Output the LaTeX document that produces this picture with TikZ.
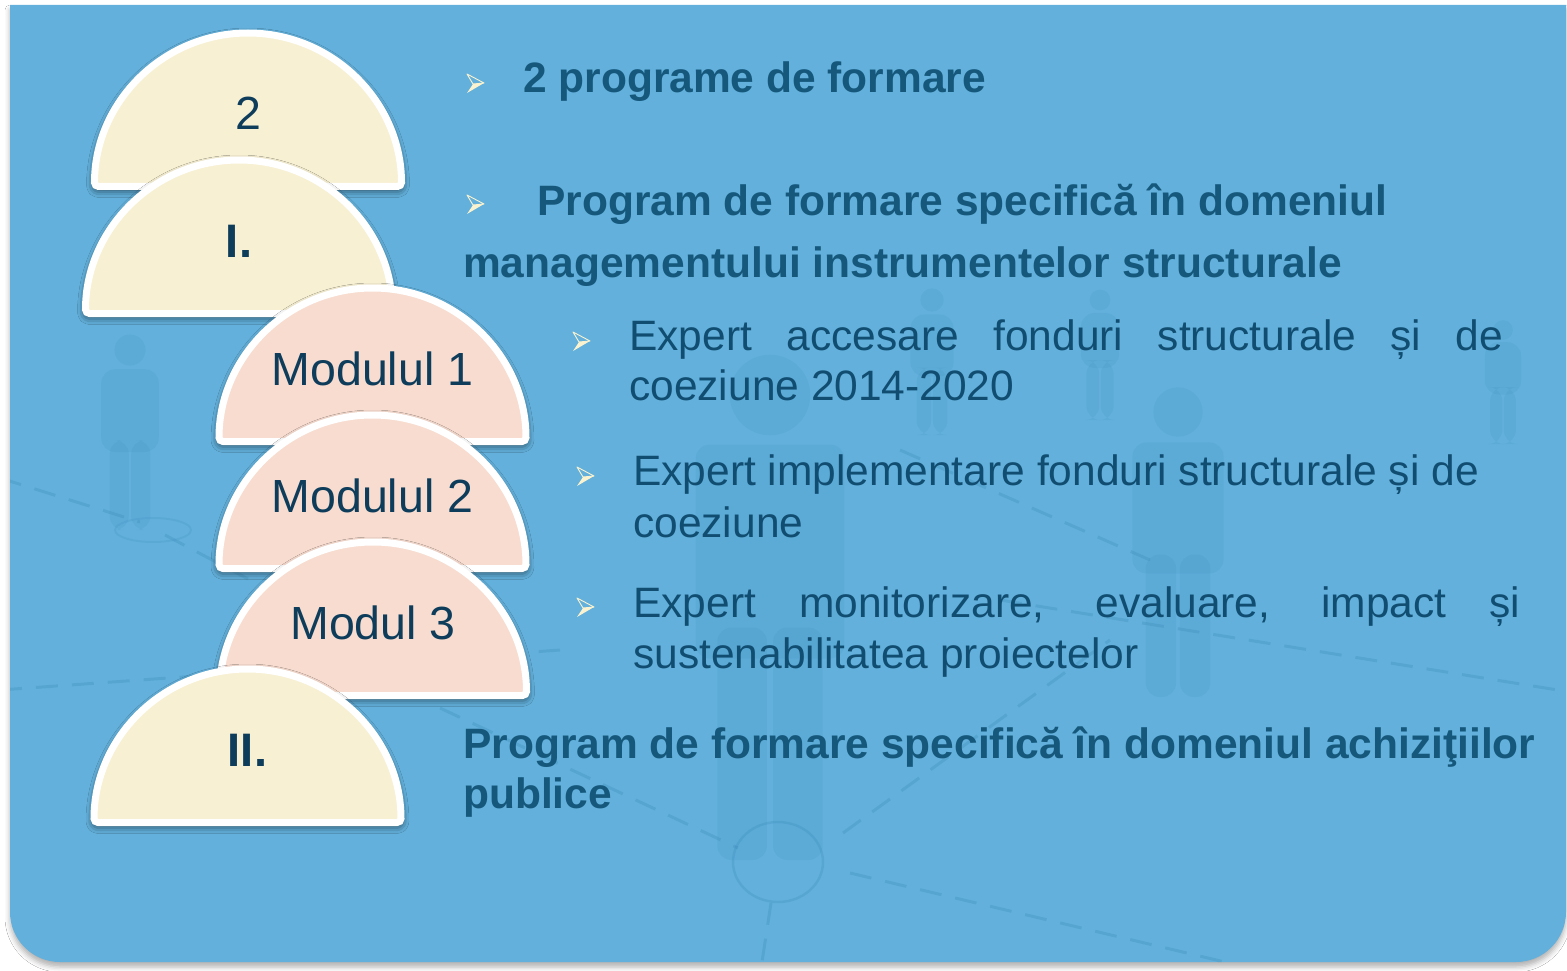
\documentclass[tikz,border=0pt]{standalone}
\usepackage{fontspec}
\setmainfont{Liberation Sans}
\usetikzlibrary{shadows.blur}
\definecolor{bgblue}{HTML}{62B0DB}
\definecolor{headc}{HTML}{15587C}
\definecolor{bodyc}{HTML}{114D71}
\definecolor{labc}{HTML}{0E3C5B}
\definecolor{creamc}{HTML}{F7F0D3}
\definecolor{pinkc}{HTML}{F7DCCF}
\definecolor{figc}{HTML}{2F7FB2}
\definecolor{bulc}{HTML}{FBF3CF}
\tikzset{
  half/.style={draw=white, line width=7pt, rounded corners=4pt,
    blur shadow={shadow xshift=0pt, shadow yshift=-3pt, shadow blur radius=8pt, shadow opacity=75}},
  lab/.style={anchor=base, inner sep=0pt, text=labc, font=\fontsize{46.5}{50}\selectfont},
  labb/.style={lab, font=\fontsize{47}{50}\selectfont\bfseries},
  head/.style={anchor=base west, inner sep=0pt, text=headc, font=\fontsize{42.5}{50}\selectfont\bfseries},
  body/.style={anchor=base west, inner sep=0pt, text=bodyc, font=\fontsize{42.5}{50}\selectfont},
  fig/.style={fill=figc, opacity=0.10},
  net/.style={draw=figc, opacity=0.22, line width=3pt, dash pattern=on 22pt off 14pt},
}
\newcommand\halfdisk[6]{%
  \path[half, fill=#3] (#1-153.5,-#2+3.5) arc[start angle=180,end angle=0,radius=153.5] -- cycle;
  \node[#5] (#4) at (#1,-#2+60) {#6};
}
\newcommand\bul[3]{%
  \coordinate (#1) at (#2,-#3);
  \fill[bulc] (#1) -- ++(-11,-1) -- ++(-6,-9) -- cycle;
  \draw[bulc, line width=0.9pt, line join=round] (#1) -- ++(-17,9) -- ++(6,-10) -- cycle;
}
\newcommand\person[3]{% x (head centre), y (head centre), scale
  \begin{scope}[shift={(#1,-#2)}, scale=#3]
    \fill[fig] (0,0) circle (26);
    \fill[fig, rounded corners=14pt] (-48,-32) rectangle (48,-170);
    \fill[fig, rounded corners=14pt] (-34,-150) rectangle (-2,-300);
    \fill[fig, rounded corners=14pt] (2,-150) rectangle (34,-300);
  \end{scope}
}
\begin{document}
\begin{tikzpicture}[x=1pt,y=1pt]
\useasboundingbox (0,0) rectangle (1567,-971);
\fill[white] (0,0) rectangle (1567,-971);
% background panel
\fill[bgblue, blur shadow={shadow xshift=0pt, shadow yshift=-5pt, shadow blur radius=5pt, shadow opacity=30}]
  (10,-5) -- (1566,-5) -- (1566,-912) arc[start angle=0,end angle=-90,radius=50]
  -- (60,-962) arc[start angle=270,end angle=180,radius=50] -- cycle;
% faint network background
\begin{scope}
\clip (10,-5) -- (1566,-5) -- (1566,-912) arc[start angle=0,end angle=-90,radius=50]
  -- (60,-962) arc[start angle=270,end angle=180,radius=50] -- cycle;
\path[net] (0,-478) -- (140,-522);
\path[net] (165,-535) -- (250,-580);
\path[net] (0,-690) -- (560,-650);
\path[net] (440,-708) -- (738,-848);
\path[net] (843,-833) -- (1110,-640);
\path[net] (850,-873) -- (1250,-968);
\path[net] (771,-903) -- (760,-975);
\path[net] (1000,-600) -- (1570,-692);
\path[net] (900,-450) -- (1150,-560);
\draw[figc, opacity=0.2, line width=2.5pt] (778,-862) ellipse (45 and 40);
\draw[figc, opacity=0.14, line width=2pt] (153,-530) ellipse (38 and 12);
\person{770}{395}{1.55}
\person{1178}{412}{0.95}
\person{130}{350}{0.6}
\person{932}{300}{0.45}
\person{1100}{300}{0.4}
\person{1503}{330}{0.38}
\end{scope}
% half disks
\halfdisk{248}{190}{creamc}{a}{lab}{2}
\halfdisk{239}{317}{creamc}{b}{labb}{I.}
\halfdisk{372.5}{445}{pinkc}{c}{lab}{Modulul 1}
\halfdisk{372.5}{572}{pinkc}{d}{lab}{Modulul 2}
\halfdisk{373}{699}{pinkc}{e}{lab}{Modul 3}
\halfdisk{247.5}{826}{creamc}{f}{labb}{II.}
% bullets
\bul{b1}{484}{83}
\bul{b2}{484}{204}
\bul{b3}{590}{341}
\bul{b4}{594}{476}
\bul{b5}{594}{607}
% texts
\node[head] (h1) at (523,-93) {2 programe de formare};
\node[head] (h2a) at (537,-215) {Program de formare specifică în domeniul};
\node[head] (h2b) at (463,-277) {managementului instrumentelor structurale};
\node[body] (e1a) at (629,-350) {\makebox[874pt][s]{Expert accesare fonduri structurale și de}};
\node[body] (e1b) at (629,-400) {coeziune 2014-2020};
\node[body] (e2a) at (633,-485) {Expert implementare fonduri structurale și de};
\node[body] (e2b) at (633,-537) {coeziune};
\node[body] (e3a) at (633,-617) {\makebox[887pt][s]{Expert monitorizare, evaluare, impact și}};
\node[body] (e3b) at (633,-668) {sustenabilitatea proiectelor};
\node[head] (p2a) at (463,-758) {Program de formare specifică în domeniul achiziţiilor};
\node[head] (p2b) at (463,-808) {publice};
\end{tikzpicture}
\end{document}
